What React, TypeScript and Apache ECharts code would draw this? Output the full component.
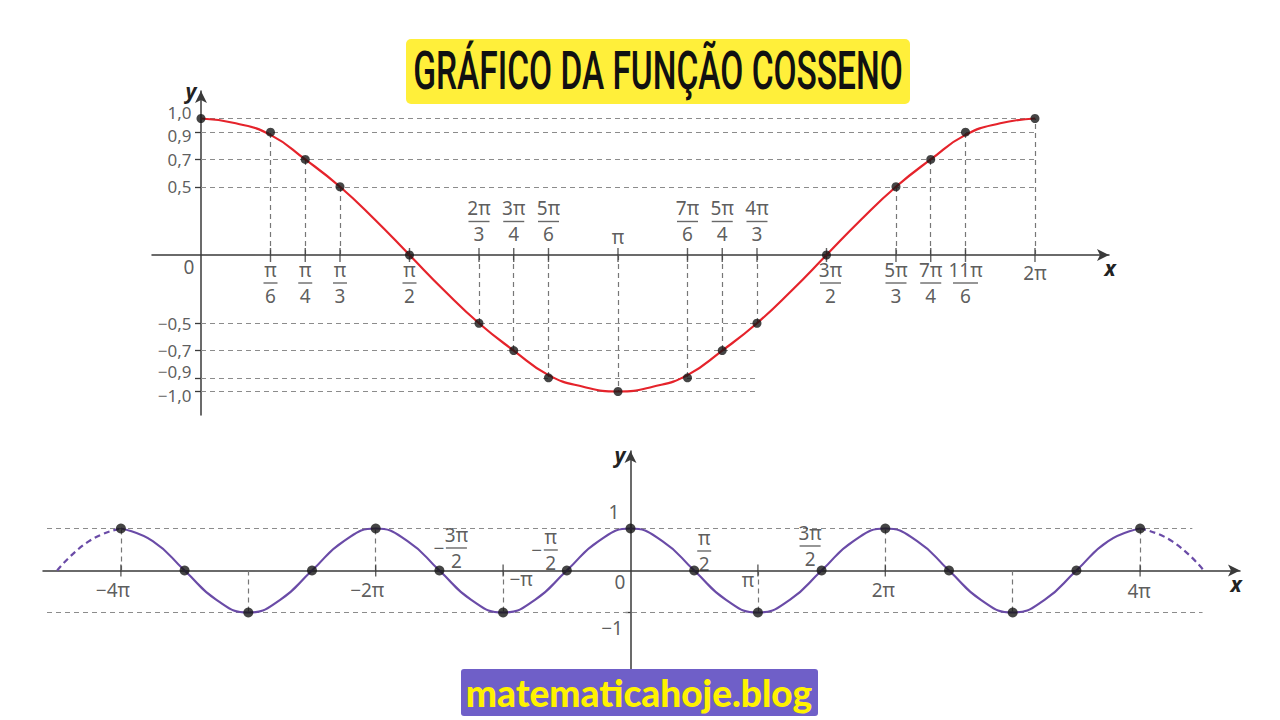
import React, { useEffect, useRef } from 'react';
import * as echarts from 'echarts';

// ---------------- DATA (x values in multiples of π) ----------------
// Top chart: marked points of y = cos x on [0, 2π]
const topX = [0, 1 / 6, 1 / 4, 1 / 3, 1 / 2, 2 / 3, 3 / 4, 5 / 6, 1, 7 / 6, 5 / 4, 4 / 3, 3 / 2, 5 / 3, 7 / 4, 11 / 6, 2];
const topY = [1, 0.9, 0.7, 0.5, 0, -0.5, -0.7, -0.9, -1, -0.9, -0.7, -0.5, 0, 0.5, 0.7, 0.9, 1];
// Top chart: red curve (every π/12)
const topCurveX = [0, 1 / 12, 1 / 6, 1 / 4, 1 / 3, 5 / 12, 1 / 2, 7 / 12, 2 / 3, 3 / 4, 5 / 6, 11 / 12, 1,
  13 / 12, 7 / 6, 5 / 4, 4 / 3, 17 / 12, 3 / 2, 19 / 12, 5 / 3, 7 / 4, 11 / 6, 23 / 12, 2];
const topCurveY = [1, 0.965, 0.88, 0.7, 0.5, 0.26, 0, -0.26, -0.5, -0.7, -0.88, -0.965, -1,
  -0.965, -0.88, -0.7, -0.5, -0.26, 0, 0.26, 0.5, 0.7, 0.88, 0.965, 1];
const topTickNum = ['π', 'π', 'π', 'π', '2π', '3π', '5π', 'π', '7π', '5π', '4π', '3π', '5π', '7π', '11π', '2π'];
const topTickDen = ['6', '4', '3', '2', '3', '4', '6', '', '6', '4', '3', '2', '3', '4', '6', ''];
const topYLabels = [1, 0.9, 0.7, 0.5, -0.5, -0.7, -0.9, -1];
const topYTicks = [0.9, 0.7, 0.5, -0.5, -0.7, -0.9, -1];

// Bottom chart: y = cos x on [-4π, 4π] (+ dashed continuation)
const botCurveX = [-4, -3.75, -3.5, -3.25, -3, -2.75, -2.5, -2.25, -2, -1.75, -1.5, -1.25, -1, -0.75, -0.5, -0.25, 0,
  0.25, 0.5, 0.75, 1, 1.25, 1.5, 1.75, 2, 2.25, 2.5, 2.75, 3, 3.25, 3.5, 3.75, 4];
const botCurveY = [1, 0.7, 0, -0.7, -1, -0.7, 0, 0.7, 1, 0.7, 0, -0.7, -1, -0.7, 0, 0.7, 1,
  0.7, 0, -0.7, -1, -0.7, 0, 0.7, 1, 0.7, 0, -0.7, -1, -0.7, 0, 0.7, 1];
const botDashLX = [-4.5, -4.25, -4];
const botDashLY = [0, 0.7, 1];
const botDashRX = [4, 4.25, 4.5];
const botDashRY = [1, 0.7, 0];
const botDotX = [-4, -3.5, -3, -2.5, -2, -1.5, -1, -0.5, 0, 0.5, 1, 1.5, 2, 2.5, 3, 3.5, 4];
const botDotY = [1, 0, -1, 0, 1, 0, -1, 0, 1, 0, -1, 0, 1, 0, -1, 0, 1];
const botTickX = [-4, -2, -1, 1, 2, 4];
const botLabelX = [-4, -2, -1.5, -1, -0.5, 0, 0.5, 1, 1.5, 2, 4];
const botLabelSign = ['−', '−', '−', '−', '−', '', '', '', '', '', ''];
const botLabelNum = ['4π', '2π', '3π', 'π', 'π', '0', 'π', 'π', '3π', '2π', '4π'];
const botLabelDen = ['', '', '2', '', '2', '', '2', '', '2', '', ''];
const botYLabelValues = [1, -1];
const botYLabelText = ['1', '−1'];

// ---------------- LAYOUT / STYLE ----------------
const TXT = '#333333';
const FONT = '"Noto Sans", sans-serif';
const FS = 19;
const AXIS = '#3a3a3a';
const GUIDE = '#8c8c8c';

// label offsets (px) relative to their anchor point
const topYLabelDy = [-6.5, 3.5, 0, 0, 0, 0, -6.2, 3.6];
const botLabelOffset = [[-8, 19.5], [-8.5, 19.5], [10, -22.5], [18, 8.5], [-23, -20.5], [-10.5, 11.5], [10, -19.5], [-10, 9.5], [-11.5, -24.5], [-2, 19.5], [-1, 21]];
const botYLabelOffset = [[-16.5, -16.5], [-18.5, 15.5]];
const botHLineExtent = [[-4.58, 4.41], [-4.58, 4.49]];

const barW = (s: string) => (s.length <= 1 ? 14 : s.length === 2 ? 21 : 25);

function buildRich() {
  const base = { fontSize: FS, fontFamily: FONT, color: TXT };
  const rich: any = {
    t: { ...base, lineHeight: 22 },
    y: { ...base, fontSize: 17, lineHeight: 17 },
    n: { ...base, lineHeight: 20 },
    d: { ...base, lineHeight: 20 },
    s: { ...base, width: 14, lineHeight: 20 },
    m: { ...base, width: 14, align: 'center', lineHeight: 6 },
  };
  [14, 21, 25].forEach((w) => {
    rich['b' + w] = { width: w, height: 1.4, lineHeight: 6, backgroundColor: '#444', fontSize: 1 };
    rich['n' + w] = { ...base, width: w, align: 'center', lineHeight: 20 };
    rich['d' + w] = { ...base, width: w, align: 'center', lineHeight: 20 };
  });
  return rich;
}
const RICH = buildRich();

function fracText(sign: string, num: string, den: string) {
  if (!den) return `{t|${sign}${num}}`;
  const w = barW(num);
  if (!sign) return `{n|${num}}\n{b${w}| }\n{d|${den}}`;
  return `{s| }{n${w}|${num}}\n{m|${sign}}{b${w}| }\n{s| }{d${w}|${den}}`;
}

const labelBase = {
  show: true,
  position: 'inside',
  align: 'center',
  verticalAlign: 'middle',
  color: TXT,
  fontFamily: FONT,
  fontSize: FS,
  rich: RICH,
  formatter: (p: any) => p.data.txt,
};

const fmtDec = (v: number) => (v < 0 ? '−' : '') + Math.abs(v).toFixed(1).replace('.', ',');

function axisLine() {
  return {
    show: true,
    onZero: true,
    symbol: ['none', 'arrow'],
    symbolSize: [9, 12],
    lineStyle: { color: AXIS, width: 1.5 },
  };
}

function buildOption() {
  // ---- top guides ----
  const topGuides: any[] = [];
  topX.forEach((k, i) => {
    if (k !== 0 && topY[i] !== 0) {
      topGuides.push([{ coord: [k, 0], lineStyle: { color: '#777' } }, { coord: [k, topY[i]] }]);
    }
  });
  topYLabels.forEach((v) => {
    const same = topX.filter((_, i) => Math.sign(topY[i]) === Math.sign(v));
    topGuides.push([{ coord: [0, v] }, { coord: [Math.max(...same), v] }]);
  });

  const topTickData = topX.slice(1).map((k, i) => {
    const idx = i + 1;
    const den = topTickDen[i];
    const above = topY[idx] < 0;
    let dy: number;
    if (den) dy = above ? -33.5 : 28;
    else dy = above ? -18 : 18.5;
    const dx = k === 3 / 2 ? 4 : 0;
    return { value: [k, 0], txt: fracText('', topTickNum[i], den), label: { offset: [dx, dy] } };
  });

  const topYLabelData = topYLabels.map((v, i) => ({
    value: [0, v],
    txt: `{y|${fmtDec(v)}}`,
    label: { offset: [0, topYLabelDy[i]] },
  }));

  // ---- bottom guides ----
  const botGuides: any[] = [];
  botDotX.forEach((k, i) => {
    if (k !== 0 && botDotY[i] !== 0) {
      botGuides.push([{ coord: [k, 0], lineStyle: { color: '#777' } }, { coord: [k, botDotY[i]] }]);
    }
  });
  botYLabelValues.forEach((v, i) => {
    botGuides.push([{ coord: [botHLineExtent[i][0], v] }, { coord: [botHLineExtent[i][1], v] }]);
  });

  const botLabelData: any[] = botLabelX.map((k, i) => ({
    value: [k, 0],
    txt: fracText(botLabelSign[i], botLabelNum[i], botLabelDen[i]),
    label: { offset: botLabelOffset[i] },
  }));
  botYLabelValues.forEach((v, i) => {
    botLabelData.push({ value: [0, v], txt: `{t|${botYLabelText[i]}}`, label: { offset: botYLabelOffset[i] } });
  });

  const markLineBase = {
    silent: true,
    symbol: ['none', 'none'],
    z: 1,
    label: { show: false },
    emphasis: { disabled: true },
    lineStyle: { type: [5, 4], color: GUIDE, width: 1.2 },
  };

  return {
    animation: false,
    backgroundColor: '#ffffff',
    textStyle: { fontFamily: FONT },
    grid: [
      { left: 152, top: 91, width: 957, height: 324, outerBoundsMode: 'none', containLabel: false },
      { left: 43, top: 451, width: 1197, height: 221, outerBoundsMode: 'none', containLabel: false },
    ],
    xAxis: [
      {
        gridIndex: 0, type: 'value', min: -0.1175, max: 2.1775,
        axisLine: axisLine(), axisTick: { show: false }, axisLabel: { show: false }, splitLine: { show: false },
      },
      {
        gridIndex: 1, type: 'value', min: -4.6115, max: 4.7841,
        axisLine: axisLine(), axisTick: { show: false }, axisLabel: { show: false }, splitLine: { show: false },
      },
    ],
    yAxis: [
      {
        gridIndex: 0, type: 'value', min: -1.1722, max: 1.2015,
        axisLine: axisLine(),
        axisTick: { show: true, customValues: topYTicks, length: 6, lineStyle: { color: AXIS, width: 1.3 } },
        axisLabel: { show: false },
        splitLine: { show: false },
      },
      {
        gridIndex: 1, type: 'value', min: -2.4167, max: 2.845,
        axisLine: axisLine(),
        axisTick: { show: true, customValues: [-1], length: 5, lineStyle: { color: AXIS, width: 1.3 } },
        axisLabel: { show: false },
        splitLine: { show: false },
      },
    ],
    series: [
      // ---------- top ----------
      {
        type: 'scatter', xAxisIndex: 0, yAxisIndex: 0, z: 3,
        symbol: 'rect', symbolSize: [1.4, 14],
        itemStyle: { color: AXIS },
        silent: true,
        data: topTickData,
        label: labelBase,
        markLine: { ...markLineBase, data: topGuides },
      },
      {
        type: 'line', xAxisIndex: 0, yAxisIndex: 0, z: 4,
        smooth: true, showSymbol: false, symbol: 'none', silent: true,
        lineStyle: { color: '#E5232B', width: 2.2 },
        data: topCurveX.map((k, i) => [k, topCurveY[i]]),
      },
      {
        type: 'scatter', xAxisIndex: 0, yAxisIndex: 0, z: 10,
        symbolSize: 9, silent: true,
        itemStyle: { color: '#161616' },
        data: topX.map((k, i) => [k, topY[i]]),
      },
      {
        type: 'scatter', xAxisIndex: 0, yAxisIndex: 0, z: 10,
        symbolSize: 1, silent: true,
        itemStyle: { color: 'rgba(0,0,0,0)' },
        label: labelBase,
        data: [{ value: [0, 0], txt: '{t|0}', label: { offset: [-12, 12] } }],
      },
      {
        type: 'scatter', xAxisIndex: 0, yAxisIndex: 0, z: 10,
        symbolSize: 1, silent: true,
        itemStyle: { color: 'rgba(0,0,0,0)' },
        label: { ...labelBase, position: 'left', distance: 9, align: 'right' },
        data: topYLabelData,
      },
      // ---------- bottom ----------
      {
        type: 'scatter', xAxisIndex: 1, yAxisIndex: 1, z: 3,
        symbol: 'rect', symbolSize: [1.4, 12],
        itemStyle: { color: AXIS },
        silent: true,
        data: botTickX.map((k) => [k, 0]),
        markLine: { ...markLineBase, data: botGuides },
      },
      {
        type: 'line', xAxisIndex: 1, yAxisIndex: 1, z: 3,
        smooth: true, showSymbol: false, symbol: 'none', silent: true,
        lineStyle: { color: '#6A4BA7', width: 2.2, type: [6, 4] },
        data: botDashLX.map((k, i) => [k, botDashLY[i]]),
      },
      {
        type: 'line', xAxisIndex: 1, yAxisIndex: 1, z: 3,
        smooth: true, showSymbol: false, symbol: 'none', silent: true,
        lineStyle: { color: '#6A4BA7', width: 2.2, type: [6, 4] },
        data: botDashRX.map((k, i) => [k, botDashRY[i]]),
      },
      {
        type: 'line', xAxisIndex: 1, yAxisIndex: 1, z: 4,
        smooth: true, showSymbol: false, symbol: 'none', silent: true,
        lineStyle: { color: '#6A4BA7', width: 2.2 },
        data: botCurveX.map((k, i) => [k, botCurveY[i]]),
      },
      {
        type: 'scatter', xAxisIndex: 1, yAxisIndex: 1, z: 10,
        symbolSize: 10, silent: true,
        itemStyle: { color: '#161616' },
        data: botDotX.map((k, i) => [k, botDotY[i]]),
      },
      {
        type: 'scatter', xAxisIndex: 1, yAxisIndex: 1, z: 11,
        symbolSize: 1, silent: true,
        itemStyle: { color: 'rgba(0,0,0,0)' },
        label: labelBase,
        data: botLabelData,
      },
    ],
    graphic: [
      { type: 'rect', z: 100, shape: { x: 406, y: 39, width: 504, height: 65, r: 5 }, style: { fill: '#FFEF3A' } },
      {
        type: 'text', z: 101, x: 658, y: 70, scaleX: 0.62,
        style: {
          text: 'GRÁFICO DA FUNÇÃO COSSENO', fontSize: 54, fontWeight: 500, fontFamily: 'Roboto',
          fill: '#111111', align: 'center', verticalAlign: 'middle', textAlign: 'center', textVerticalAlign: 'middle',
        },
      },
      { type: 'rect', z: 100, shape: { x: 461, y: 669, width: 357, height: 47, r: 3 }, style: { fill: '#6F5FC8' } },
      {
        type: 'text', z: 101, x: 639, y: 692,
        style: {
          text: 'matematicahoje.blog', fontSize: 37, fontWeight: 900, fontFamily: 'Lato',
          fill: '#FFF200', align: 'center', verticalAlign: 'middle', textAlign: 'center', textVerticalAlign: 'middle',
        },
      },
      ...[
        { t: 'y', x: 191, y: 91 },
        { t: 'x', x: 1110, y: 268 },
        { t: 'y', x: 620, y: 455 },
        { t: 'x', x: 1236, y: 584 },
      ].map((a) => ({
        type: 'text', z: 101, x: a.x, y: a.y,
        style: {
          text: a.t, fontSize: 21, fontWeight: 'bold', fontStyle: 'italic', fontFamily: FONT,
          fill: '#222222', align: 'center', verticalAlign: 'middle', textAlign: 'center', textVerticalAlign: 'middle',
        },
      })),
    ],
  };
}

export default function App() {
  const ref = useRef<HTMLDivElement>(null);
  useEffect(() => {
    if (!ref.current) return;
    const chart = echarts.init(ref.current, null, { renderer: 'svg' });
    chart.setOption(buildOption() as any);
    return () => chart.dispose();
  }, []);
  return (
    <div
      ref={ref}
      style={{ position: 'fixed', left: 0, top: 0, width: 1280, height: 720, background: '#ffffff' }}
    />
  );
}
